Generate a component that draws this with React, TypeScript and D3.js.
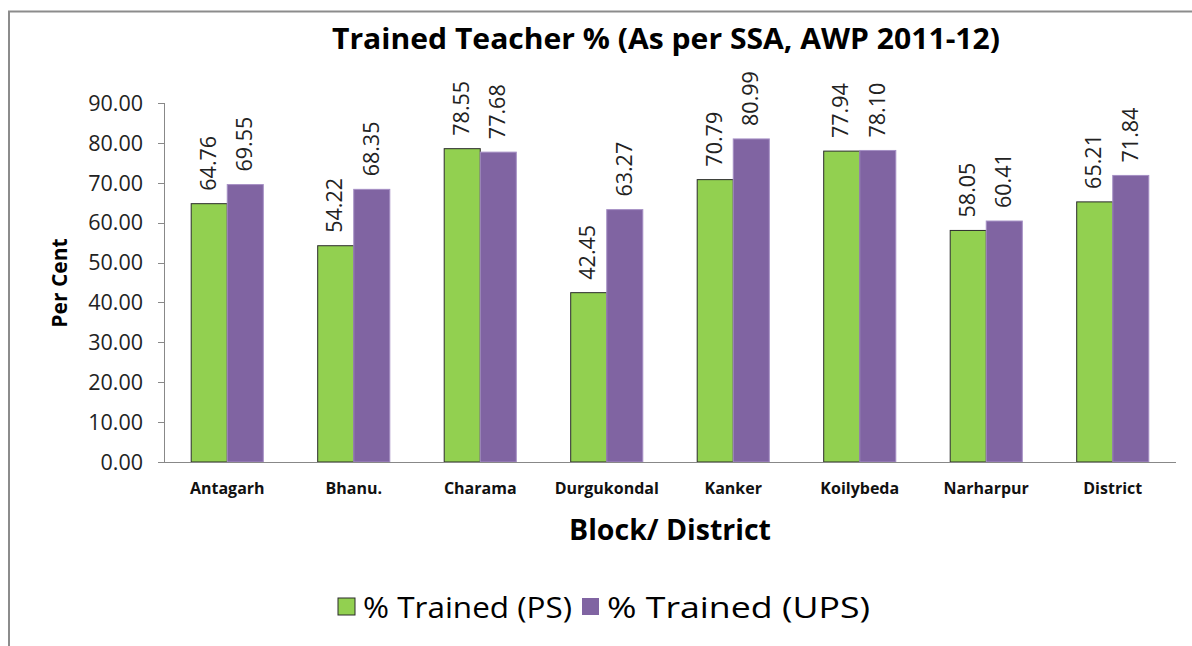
import * as React from 'react';
import * as d3 from 'd3';

const blocks = ['Antagarh', 'Bhanu.', 'Charama', 'Durgukondal', 'Kanker', 'Koilybeda', 'Narharpur', 'District'];
const trainedPS = [64.76, 54.22, 78.55, 42.45, 70.79, 77.94, 58.05, 65.21];
const trainedUPS = [69.55, 68.35, 77.68, 63.27, 80.99, 78.1, 60.41, 71.84];
const seriesNames = ['% Trained (PS)', '% Trained (UPS)'];
const yTicks = [0, 10, 20, 30, 40, 50, 60, 70, 80, 90];

const W = 1192;
const H = 646;
const FONT = '"Open Sans", "DejaVu Sans", sans-serif';
const GREEN = '#92D050';
const PURPLE = '#8064A2';

const x = d3.scaleBand<string>().domain(blocks).range([164, 1176]).paddingInner(0.43).paddingOuter(0.215);
const inner = d3.scaleBand<string>().domain(['ps', 'ups']).range([0, x.bandwidth()]);
const y = d3.scaleLinear().domain([0, 90]).range([462, 103]);

export default function App() {
  const series = [
    { key: 'ps', values: trainedPS, fill: GREEN, stroke: '#2b2b2b' },
    { key: 'ups', values: trainedUPS, fill: PURPLE, stroke: '#a58fc4' },
  ];

  return (
    <svg width={W} height={H} style={{ position: 'absolute', left: 0, top: 0, background: '#fff' }}>
      {/* chart frame, cut at right / bottom like the screenshot */}
      <path d={`M9,${H} V11.5 H${W}`} fill="none" stroke="#8c8c8c" strokeWidth={2} />

      <text
        x={332}
        y={49}
        textLength={668}
        lengthAdjust="spacingAndGlyphs"
        fontFamily={FONT}
        fontWeight="bold"
        fontSize={28}
        fill="#000"
      >
        Trained Teacher % (As per SSA, AWP 2011-12)
      </text>

      {/* y axis */}
      <line x1={164.5} x2={164.5} y1={y(90)} y2={y(0)} stroke="#888" />
      {yTicks.map((t) => (
        <g key={t}>
          <line x1={158} x2={164.5} y1={Math.round(y(t)) + 0.5} y2={Math.round(y(t)) + 0.5} stroke="#888" />
          <text x={143} y={y(t)} dy="0.36em" textAnchor="end" fontFamily={FONT} fontSize={21.5} fill="#222">
            {d3.format('.2f')(t)}
          </text>
        </g>
      ))}
      <text
        transform={`translate(67,283) rotate(-90)`}
        textAnchor="middle"
        fontFamily={FONT}
        fontWeight="bold"
        fontSize={21}
        fill="#000"
      >
        Per Cent
      </text>

      {/* bars */}
      {series.map((s) =>
        blocks.map((b, i) => {
          const bx = (x(b) || 0) + (inner(s.key) || 0);
          const bw = inner.bandwidth();
          const top = y(s.values[i]);
          return (
            <g key={s.key + b}>
              <rect x={bx} y={top} width={bw} height={y(0) - top} fill={s.fill} stroke={s.stroke} strokeWidth={1} />
              <text
                transform={`translate(${bx + bw / 2 + 1},${top - 13}) rotate(-90)`}
                dominantBaseline="middle"
                fontFamily={FONT}
                fontSize={21.5}
                fill="#222"
              >
                {d3.format('.2f')(s.values[i])}
              </text>
            </g>
          );
        })
      )}

      {/* x axis */}
      <line x1={164} x2={1176} y1={462.5} y2={462.5} stroke="#888" />
      {blocks.map((b) => (
        <text
          key={b}
          x={(x(b) || 0) + x.bandwidth() / 2}
          y={494}
          textAnchor="middle"
          fontFamily={FONT}
          fontWeight="bold"
          fontSize={16}
          fill="#111"
        >
          {b}
        </text>
      ))}
      <text x={670} y={540} textAnchor="middle" fontFamily={FONT} fontWeight="bold" fontSize={28.5} fill="#000">
        Block/ District
      </text>

      {/* legend */}
      <rect x={338} y={598} width={17} height={17} fill={GREEN} stroke="#2b2b2b" />
      <text x={363} y={618} textLength={209} lengthAdjust="spacingAndGlyphs" fontFamily={FONT} fontSize={29} fill="#000">
        {seriesNames[0]}
      </text>
      <rect x={582} y={598} width={17} height={17} fill={PURPLE} />
      <text x={607} y={618} textLength={263} lengthAdjust="spacingAndGlyphs" fontFamily={FONT} fontSize={29} fill="#000">
        {seriesNames[1]}
      </text>
    </svg>
  );
}
